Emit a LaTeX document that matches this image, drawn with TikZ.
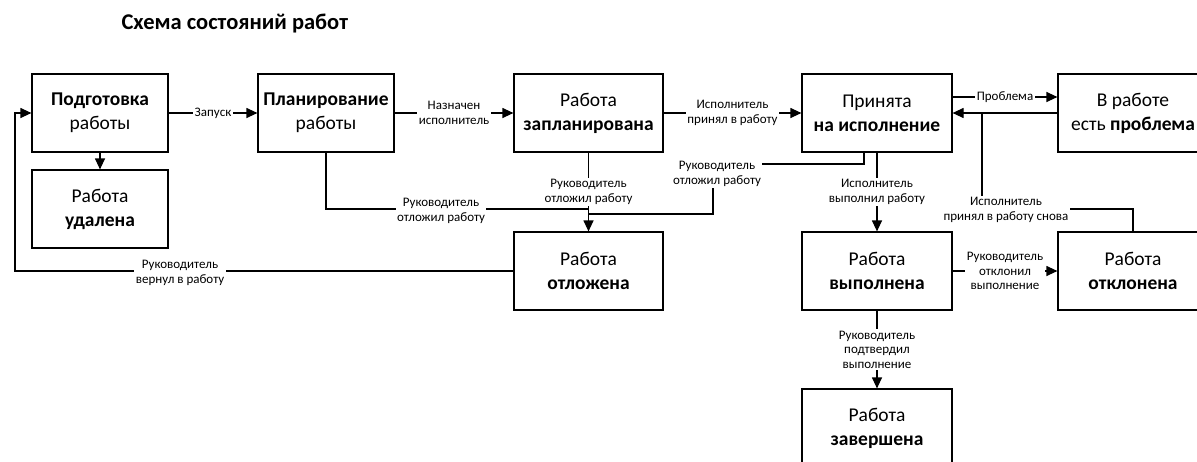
\documentclass[tikz,border=0pt]{standalone}
\usepackage{fontspec}
\setmainfont{Carlito}
\usetikzlibrary{arrows.meta}
\tikzset{
  box/.style={draw, line width=1.2pt, minimum width=#1, minimum height=78pt, inner sep=0pt, align=center, font=\fontsize{19.5}{24}\selectfont},
  box/.default=150pt,
  lbl/.style={fill=white, inner sep=1.5pt, align=center, font=\fontsize{13}{14.5}\selectfont},
  conn/.style={line width=1.2pt},
  arr/.style={line width=1.2pt, -{Triangle[length=11pt,width=10pt]}},
}
\begin{document}
\begin{tikzpicture}[x=1pt,y=-1pt]
\useasboundingbox (0,0) rectangle (1197,461);
\clip (0,0) rectangle (1197,461);
\node[anchor=base west, font=\fontsize{22.5}{26}\selectfont\bfseries] (title) at (118,29) {Схема состояний работ};

\node[box=136pt] (prep) at (100,113) {\textbf{Подготовка}\\работы};
\node[box=136pt] (del) at (100,209) {Работа\\\textbf{удалена}};
\node[box=136pt] (plan) at (326,113) {\textbf{Планирование}\\работы};
\node[box=149pt] (sched) at (588.5,113) {Работа\\\textbf{запланирована}};
\node[box=149pt] (post) at (588.5,271) {Работа\\\textbf{отложена}};
\node[box] (acc) at (877,113) {Принята\\\textbf{на исполнение}};
\node[box] (done) at (877,271) {Работа\\\textbf{выполнена}};
\node[box] (prob) at (1133,113) {В работе\\есть \textbf{проблема}};
\node[box] (rej) at (1133,271) {Работа\\\textbf{отклонена}};
\node[box] (fin) at (877,428) {Работа\\\textbf{завершена}};

% straight connectors
\draw[arr] (prep) -- node[lbl]{Запуск} (plan);
\draw[arr] (prep) -- (del);
\draw[arr] (plan) -- node[lbl]{Назначен\\исполнитель} (sched);
\draw[arr] (sched) -- node[lbl]{Исполнитель\\принял в работу} (acc);
\draw[arr] ([yshift=16pt]acc.east) -- node[lbl]{Проблема} ([yshift=16pt]prob.west);
\draw[arr] (prob) -- (acc);
\draw[arr] (sched) -- node[lbl]{Руководитель\\отложил работу} (post);
\draw[arr] (acc) -- node[lbl]{Исполнитель\\выполнил работу} (done);
\draw[arr] (done) -- node[lbl]{Руководитель\\отклонил\\выполнение} (rej);
\draw[arr] (done) -- node[lbl]{Руководитель\\подтвердил\\выполнение} (fin);

% planning -> postponed
\coordinate (pp1) at (326,209);
\coordinate (pp2) at (588.5,209);
\draw[conn] (plan.south) -- (pp1) -- (pp2);
\node[lbl] (lpp) at (441,211) {Руководитель\\отложил работу};

% accepted -> postponed
\coordinate (ap0) at (864,152);
\coordinate (ap1) at (864,164);
\coordinate (ap2) at (713,164);
\coordinate (ap3) at (713,214);
\coordinate (ap4) at (588.5,214);
\draw[conn] (ap0) -- (ap1) -- (ap2) -- (ap3) -- (ap4);
\node[lbl] (lap) at (717,174) {Руководитель\\отложил работу};

% rejected -> accepted again
\coordinate (ra1) at (1133,209);
\coordinate (ra2) at (982,209);
\coordinate (ra3) at (982,113);
\draw[conn] (rej.north) -- (ra1) -- (ra2) -- (ra3);
\node[lbl] (lra) at (1006,210) {Исполнитель\\принял в работу снова};

% postponed -> preparation
\coordinate (pb1) at (15,271);
\coordinate (pb2) at (15,113);
\draw[arr] (post.west) -- (pb1) -- (pb2) -- (prep.west);
\node[lbl] (lpb) at (180,273) {Руководитель\\вернул в работу};
\end{tikzpicture}
\end{document}
